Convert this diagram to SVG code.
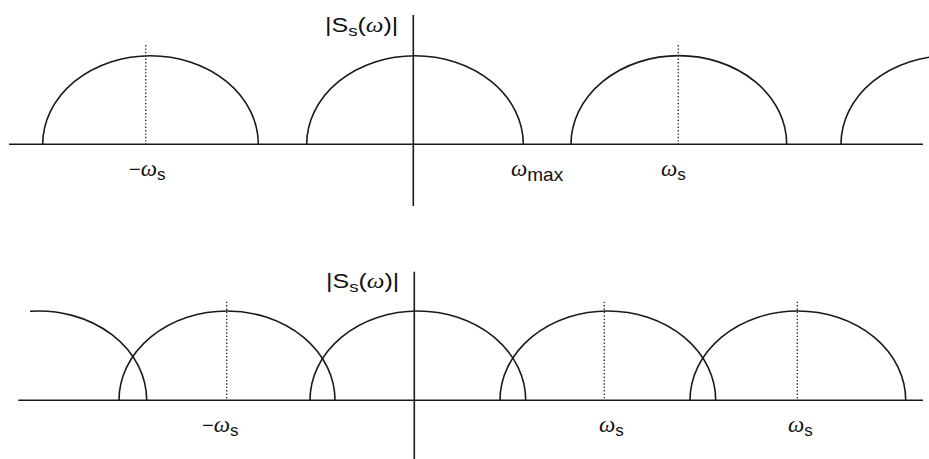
<svg xmlns="http://www.w3.org/2000/svg" width="929" height="459" viewBox="0 0 929 459">
<style>
.ln{fill:none;stroke:#1a1a1a;stroke-width:1.6}
.ax{fill:none;stroke:#1a1a1a;stroke-width:1.6}
.dot{fill:none;stroke:#333;stroke-width:1.4;stroke-dasharray:1.4 2}
.t{font-family:"Liberation Sans",Arial,sans-serif;font-size:20px;fill:#111}
.w{font-family:"Liberation Serif","Times New Roman",serif;font-style:italic;font-size:23px}
.sub{font-size:17px}
.subm{font-size:19px}
</style>
<rect width="929" height="459" fill="#fff"/>
<g id="top-panel">
  <g id="top-axes">
    <line class="ax" x1="9" y1="144.3" x2="923" y2="144.3"/>
    <line class="ax" x1="413.3" y1="15" x2="413.3" y2="206"/>
  </g>
  <g id="top-arches">
    <path class="ln" d="M42.7,144.3 A107.8,88.6 0 0 1 258.3,144.3"/>
    <path class="ln" d="M306.7,144.3 A108.3,88.6 0 0 1 523.3,144.3"/>
    <path class="ln" d="M571,144.3 A107.8,88.6 0 0 1 786.7,144.3"/>
    <path class="ln" d="M841,144.3 A108,88.6 0 0 1 1057,144.3"/>
  </g>
  <g id="top-dotted">
    <line class="dot" x1="145.7" y1="45" x2="145.7" y2="144"/>
    <line class="dot" x1="678.3" y1="45" x2="678.3" y2="144"/>
  </g>
  <g id="top-labels">
    <text class="t" transform="translate(325,32) scale(1.25,1)" font-size="21">|S<tspan font-size="15" dy="4">s</tspan><tspan dy="-4">(</tspan><tspan font-family="Liberation Serif,serif" font-style="italic">ω</tspan>)|</text>
    <text class="t" x="129" y="176">−<tspan class="w">ω</tspan><tspan class="sub" dy="4">s</tspan></text>
    <text class="t" x="511" y="176"><tspan class="w">ω</tspan><tspan class="subm" dy="5">max</tspan></text>
    <text class="t" x="661" y="176"><tspan class="w">ω</tspan><tspan class="sub" dy="4">s</tspan></text>
  </g>
</g>
<g id="bottom-panel">
  <g id="bottom-axes">
    <line class="ax" x1="18.3" y1="400.3" x2="923" y2="400.3"/>
    <line class="ax" x1="414.3" y1="271.7" x2="414.3" y2="459"/>
  </g>
  <g id="bottom-arches">
    <path class="ln" d="M30,311.3 A108,89.3 0 0 1 146.7,400.3"/>
    <path class="ln" d="M119,400.3 A108,89.3 0 0 1 335,400.3"/>
    <path class="ln" d="M310,400.3 A107.8,89.3 0 0 1 525.7,400.3"/>
    <path class="ln" d="M500,400.3 A107.8,89.3 0 0 1 715.7,400.3"/>
    <path class="ln" d="M690,400.3 A107.8,89.3 0 0 1 905.7,400.3"/>
  </g>
  <g id="bottom-dotted">
    <line class="dot" x1="226.7" y1="301.7" x2="226.7" y2="400"/>
    <line class="dot" x1="604.3" y1="301.7" x2="604.3" y2="400"/>
    <line class="dot" x1="797.3" y1="301.7" x2="797.3" y2="400"/>
  </g>
  <g id="bottom-labels">
    <text class="t" transform="translate(326,288) scale(1.25,1)" font-size="21">|S<tspan font-size="15" dy="4">s</tspan><tspan dy="-4">(</tspan><tspan font-family="Liberation Serif,serif" font-style="italic">ω</tspan>)|</text>
    <text class="t" x="202" y="432">−<tspan class="w">ω</tspan><tspan class="sub" dy="4">s</tspan></text>
    <text class="t" x="599" y="432"><tspan class="w">ω</tspan><tspan class="sub" dy="4">s</tspan></text>
    <text class="t" x="788" y="432"><tspan class="w">ω</tspan><tspan class="sub" dy="4">s</tspan></text>
  </g>
</g>
</svg>
